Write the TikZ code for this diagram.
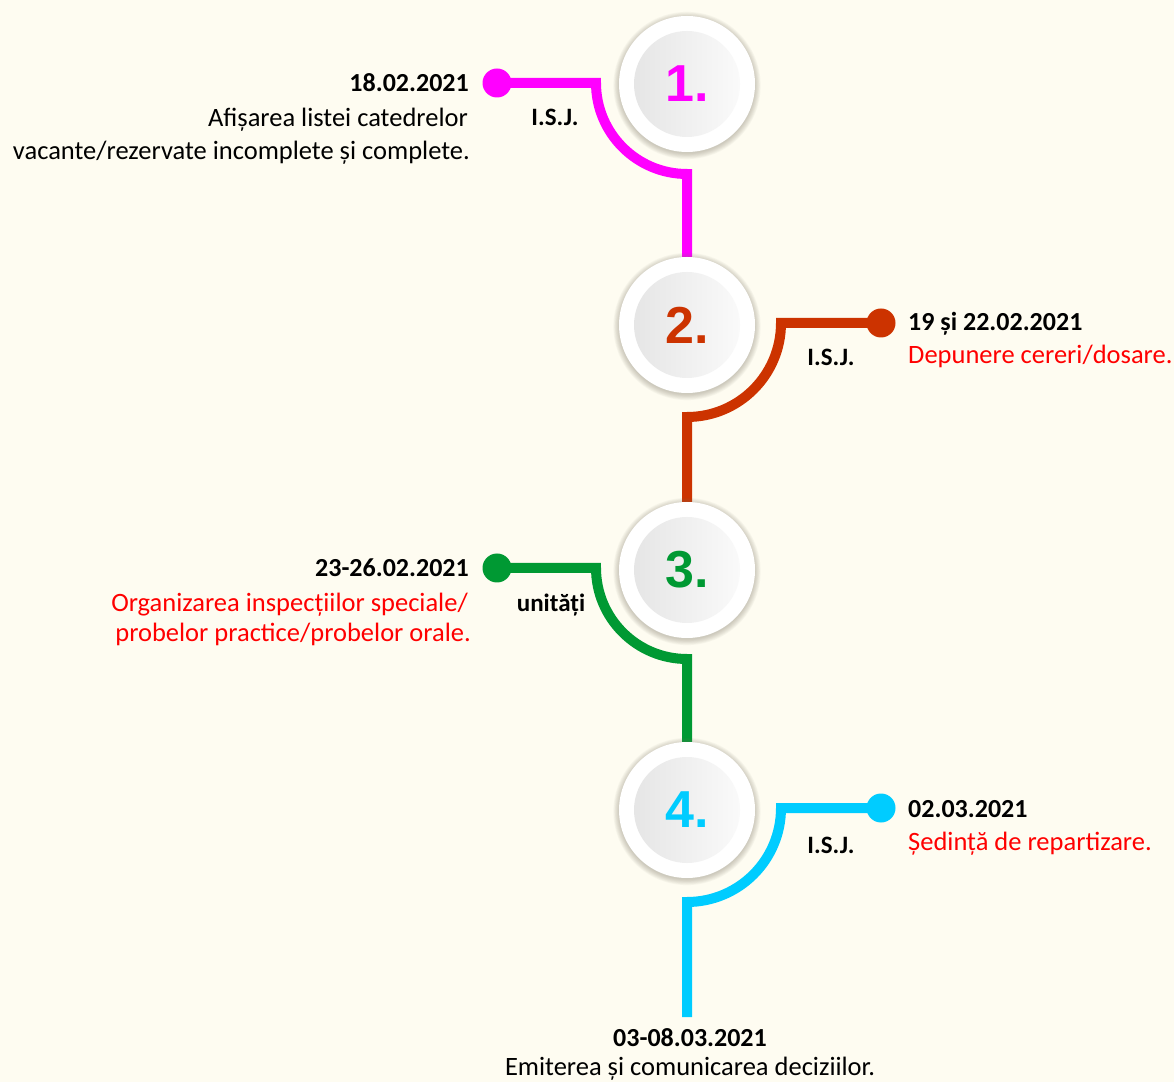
\documentclass[tikz,border=0pt]{standalone}
\usepackage{fontspec}
\setmainfont{Carlito}
\newfontfamily\numfont{Liberation Sans}
\definecolor{bgc}{HTML}{FEFCF1}
\definecolor{cmag}{HTML}{FF00FF}
\definecolor{cred}{HTML}{CC3300}
\definecolor{cgrn}{HTML}{009933}
\definecolor{ccya}{HTML}{00CCFF}
\definecolor{txtred}{HTML}{FF0000}
\definecolor{shc}{HTML}{7A7262}
\pgfdeclarelayer{back}
\pgfdeclarelayer{lines}
\pgfsetlayers{back,lines,main}
\begin{document}
\begin{tikzpicture}[x=1pt,y=1pt,
  stepcircle/.style={circle, fill=white, minimum size=136pt, inner sep=0pt},
  innercircle/.style={circle, minimum size=106pt, inner sep=0pt, left color=black!10, right color=black!2,
    font=\numfont\fontsize{52}{52}\selectfont\bfseries},
  dotnode/.style={circle, minimum size=29pt, inner sep=0pt},
  conn/.style={line width=10pt},
  shadowring/.style={fill=shc, fill opacity=0.05},
  datetxt/.style={font=\fontsize{26}{32}\selectfont\bfseries, inner sep=0pt},
  desctxt/.style={font=\fontsize{26.5}{32}\selectfont, inner sep=0pt},
  who/.style={font=\fontsize{25}{30}\selectfont\bfseries, inner sep=0pt},
]
\useasboundingbox (0,0) rectangle (1174,1082);
\begin{pgfonlayer}{back}
\fill[bgc] (0,0) rectangle (1174,1082);
\end{pgfonlayer}

% soft shadows of the step circles
\foreach \yy in {998,757,512,272}{
  \foreach \k in {0,...,7}{
    \fill[shadowring] (687,\yy-1.5) circle[radius=68+\k*0.8];
  }
}

% step circles
\node[stepcircle] (c1) at (687,998) {};
\node[innercircle,text=cmag] (n1) at (c1.center) {1.};
\node[stepcircle] (c2) at (687,757) {};
\node[innercircle,text=cred] (n2) at (c2.center) {2.};
\node[stepcircle] (c3) at (687,512) {};
\node[innercircle,text=cgrn] (n3) at (c3.center) {3.};
\node[stepcircle] (c4) at (687,272) {};
\node[innercircle,text=ccya] (n4) at (c4.center) {4.};

% dots
\node[dotnode,fill=cmag] (d1) at (497,999) {};
\node[dotnode,fill=cred] (d2) at (881,759) {};
\node[dotnode,fill=cgrn] (d3) at (497,514) {};
\node[dotnode,fill=ccya] (d4) at (881,274) {};

\coordinate (b1) at (596,999);
\coordinate (b2) at (781,759);
\coordinate (b3) at (596,514);
\coordinate (b4) at (781,274);
\coordinate (e4) at (687,65);

\begin{pgfonlayer}{lines}
\draw[conn,cmag] (d1.center) -- (b1) arc[start angle=180,end angle=270,radius=91] -- (c2.north);
\draw[conn,cred] (d2.center) -- (b2) arc[start angle=0,end angle=-90,radius=94] -- (c3.north);
\draw[conn,cgrn] (d3.center) -- (b3) arc[start angle=180,end angle=270,radius=91] -- (c4.north);
\draw[conn,ccya] (d4.center) -- (b4) arc[start angle=0,end angle=-90,radius=94] -- (e4);
\end{pgfonlayer}

% texts item 1
\node[datetxt, anchor=base east] (t1a) at (469,990) {18.02.2021};
\node[desctxt, anchor=base east] (t1b) at (468,955) {Afișarea listei catedrelor};
\node[desctxt, anchor=base east] (t1c) at (470,922) {vacante/rezervate incomplete și complete.};
\node[who, anchor=base] (w1) at (555,956) {I.S.J.};

% item 2
\node[datetxt, anchor=base west] (t2a) at (908,751) {19 și 22.02.2021};
\node[desctxt, anchor=base west, text=txtred] (t2b) at (908,718) {Depunere cereri/dosare.};
\node[who, anchor=base] (w2) at (831,716) {I.S.J.};

% item 3
\node[datetxt, anchor=base east] (t3a) at (469,505) {23-26.02.2021};
\node[desctxt, anchor=base east, text=txtred] (t3b) at (468,470) {Organizarea inspecțiilor speciale/};
\node[desctxt, anchor=base east, text=txtred] (t3c) at (471,440) {probelor practice/probelor orale.};
\node[who, anchor=base] (w3) at (551,470) {unități};

% item 4
\node[datetxt, anchor=base west] (t4a) at (908,265) {02.03.2021};
\node[desctxt, anchor=base west, text=txtred] (t4b) at (908,232) {Ședință de repartizare.};
\node[who, anchor=base] (w4) at (831,229) {I.S.J.};

% item 5
\node[datetxt, anchor=base] (t5a) at (690,36) {03-08.03.2021};
\node[desctxt, anchor=base] (t5b) at (690,7) {Emiterea și comunicarea deciziilor.};
\end{tikzpicture}
\end{document}
